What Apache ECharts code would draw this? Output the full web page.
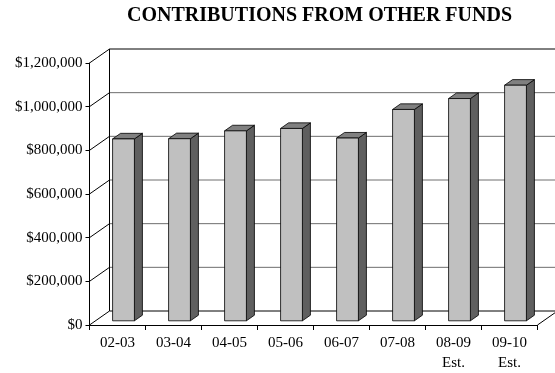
<!DOCTYPE html>
<html>
<head>
<meta charset="utf-8">
<script src="https://cdn.jsdelivr.net/npm/echarts@6/dist/echarts.min.js"></script>
<style>
  html, body { margin: 0; padding: 0; background: #fff; }
  #chart { width: 555px; height: 373px; }
</style>
</head>
<body>
<div id="chart"></div>
<script>
// Fiscal years and contributions received from other funds
const categories = ['02-03', '03-04', '04-05', '05-06', '06-07', '07-08', '08-09\nEst.', '09-10\nEst.'];
const contributions = [833000, 834000, 870000, 881000, 837000, 968000, 1018000, 1079000];
const yTicks = [0, 200000, 400000, 600000, 800000, 1000000, 1200000];

// Pseudo-3D depth: offset from front plane to back wall
const DX = 20, DY = -14;
// Bar depth placement, as fractions of the wall depth
const D1 = 0.3, D2 = 0.7;

const FONT = '"Liberation Serif", "Times New Roman", serif';

const chart = echarts.init(document.getElementById('chart'), null, { renderer: 'canvas' });

// Side wall diagonals, back wall gridlines and floor outline
function frameItem(params, api) {
  const cs = params.coordSys;
  const v = api.value(1);
  const y = api.coord([0, v])[1];
  const y0 = api.coord([0, 0])[1];
  const left = cs.x, right = cs.x + cs.width;
  const isEdge = (v === 0 || v === yTicks[yTicks.length - 1]);
  const children = [
    { type: 'line', shape: { x1: left, y1: y, x2: left + DX, y2: y + DY },
      style: { stroke: '#000', lineWidth: 1 } },
    { type: 'line', shape: { x1: left + DX, y1: y + DY, x2: right + DX, y2: y + DY },
      style: { stroke: isEdge ? '#000' : '#6e6e6e', lineWidth: 1 } }
  ];
  if (v === 0) {
    children.push({ type: 'line', shape: { x1: right, y1: y, x2: right + DX, y2: y + DY },
      style: { stroke: '#000', lineWidth: 1 } });
  }
  if (v === yTicks[yTicks.length - 1]) {
    children.push({ type: 'line', shape: { x1: left + DX, y1: y + DY, x2: left + DX, y2: y0 + DY },
      style: { stroke: '#000', lineWidth: 1 } });
  }
  return { type: 'group', children };
}

// A box-shaped bar: front face, right side and top
function barItem(params, api) {
  const i = api.value(0);
  const v = api.value(1);
  const base = api.coord([i, 0]);
  const top = api.coord([i, v]);
  const cw = api.size([1, 0])[0];
  const w = cw * 0.39;
  const l = base[0] - w / 2 + D1 * DX;
  const r = l + w;
  const yB = base[1] + D1 * DY;
  const yT = top[1] + D1 * DY;
  const ddx = (D2 - D1) * DX, ddy = (D2 - D1) * DY;
  const edge = { stroke: '#000', lineWidth: 0.8, lineJoin: 'round' };
  return {
    type: 'group',
    children: [
      { type: 'polygon', shape: { points: [[r, yT], [r + ddx, yT + ddy], [r + ddx, yB + ddy], [r, yB]] },
        style: Object.assign({ fill: '#5f5f5f' }, edge) },
      { type: 'polygon', shape: { points: [[l, yT], [r, yT], [r + ddx, yT + ddy], [l + ddx, yT + ddy]] },
        style: Object.assign({ fill: '#808080' }, edge) },
      { type: 'rect', shape: { x: l, y: yT, width: w, height: yB - yT },
        style: Object.assign({ fill: '#c0c0c0' }, edge) }
    ]
  };
}

chart.setOption({
  animation: false,
  backgroundColor: '#fff',
  title: {
    text: 'CONTRIBUTIONS FROM OTHER FUNDS',
    left: 122,
    top: 1,
    textStyle: { fontFamily: FONT, fontWeight: 'bold', fontSize: 20, color: '#000' }
  },
  grid: { left: 89.5, right: 17.5, top: 63, bottom: 47, containLabel: false },
  xAxis: {
    type: 'category',
    data: categories,
    axisLine: { lineStyle: { color: '#000', width: 1 } },
    axisTick: { show: true, length: 5, lineStyle: { color: '#000' } },
    axisLabel: { color: '#000', fontFamily: FONT, fontSize: 15, lineHeight: 20, margin: 8, interval: 0 },
    splitLine: { show: false }
  },
  yAxis: {
    type: 'value',
    min: 0,
    max: 1200000,
    interval: 200000,
    axisLine: { show: true, lineStyle: { color: '#000', width: 1 } },
    axisTick: { show: true, length: 4, lineStyle: { color: '#000' } },
    axisLabel: {
      color: '#000', fontFamily: FONT, fontSize: 15, margin: 7,
      formatter: v => '$' + v.toLocaleString('en-US')
    },
    splitLine: { show: false }
  },
  series: [
    {
      name: 'frame',
      type: 'custom',
      z: 1,
      silent: true,
      renderItem: frameItem,
      data: yTicks.map(v => [0, v])
    },
    {
      name: 'Contributions',
      type: 'custom',
      z: 3,
      renderItem: barItem,
      data: contributions.map((v, i) => [i, v])
    }
  ]
});
</script>
</body>
</html>
